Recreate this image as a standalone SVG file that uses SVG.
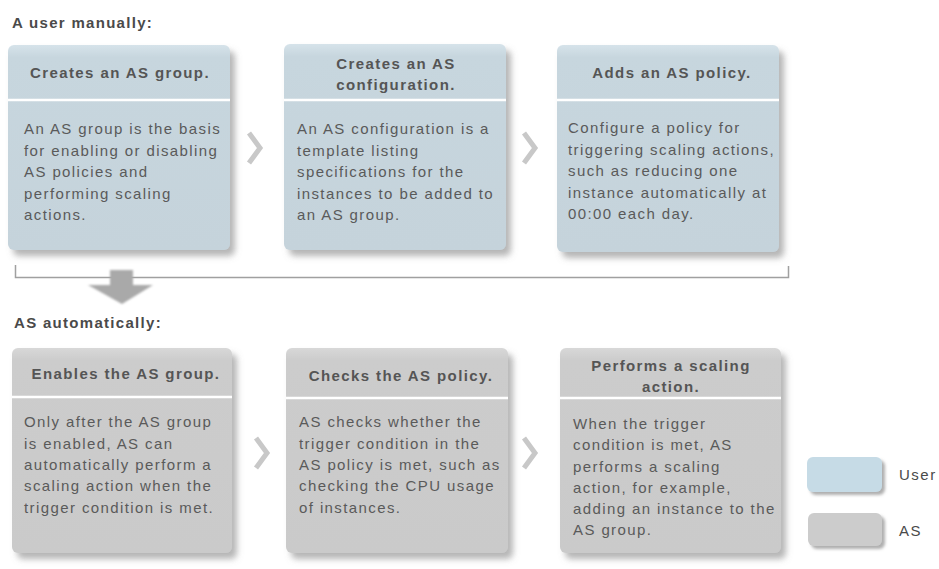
<svg xmlns="http://www.w3.org/2000/svg" width="939" height="569" viewBox="0 0 939 569">
<defs>
  <filter id="sh" x="-10%" y="-10%" width="130%" height="130%">
    <feDropShadow dx="5" dy="6" stdDeviation="3" flood-color="#7a7a7a" flood-opacity="0.55"/>
  </filter>
  <filter id="sh2" x="-20%" y="-20%" width="150%" height="160%">
    <feDropShadow dx="3" dy="3" stdDeviation="1.5" flood-color="#7a7a7a" flood-opacity="0.6"/>
  </filter>
  <filter id="blur" x="-20%" y="-20%" width="140%" height="150%">
    <feGaussianBlur stdDeviation="1.2"/>
  </filter>
  <linearGradient id="gb" x1="0" y1="0" x2="0" y2="1">
    <stop offset="0" stop-color="#d6e3ea"/>
    <stop offset="0.06" stop-color="#c7d6de"/>
    <stop offset="1" stop-color="#c5d3db"/>
  </linearGradient>
  <linearGradient id="gg" x1="0" y1="0" x2="0" y2="1">
    <stop offset="0" stop-color="#d8d8d8"/>
    <stop offset="0.06" stop-color="#cccccc"/>
    <stop offset="1" stop-color="#cacaca"/>
  </linearGradient>
</defs>
<style>
  .title{font-family:"Liberation Sans",Arial,sans-serif;font-size:15px;font-weight:bold;fill:#4a4a4a;letter-spacing:1.3px}
  .hd{font-family:"Liberation Sans",Arial,sans-serif;font-size:15px;font-weight:bold;fill:#555555;text-anchor:middle;letter-spacing:1.4px}
  .bd{font-family:"Liberation Sans",Arial,sans-serif;font-size:15px;fill:#5a5a5a;letter-spacing:1.4px}
  .lg{font-family:"Liberation Sans",Arial,sans-serif;font-size:15px;fill:#4a4a4a;letter-spacing:1.5px}
  .ub{fill:url(#gb);filter:url(#sh)}
  .ab{fill:url(#gg);filter:url(#sh)}
  .sep{stroke:#ffffff;stroke-width:2.5}
  .chev{fill:none;stroke:#c8c8c8;stroke-width:5}
</style>

<text class="title" x="12" y="28">A user manually:</text>
<text class="title" x="14" y="328">AS automatically:</text>

<g id="connectors">
  <path d="M15.5 265 V277.5 H788.5 V266" fill="none" stroke="#a0a0a0" stroke-width="1.5"/>
  <polygon points="110,270 133,270 133,285 153,285 122,304 88,285 110,285" fill="#a9a9a9" filter="url(#blur)"/>
  <polyline class="chev" points="249,133 260,148 249,163"/>
  <polyline class="chev" points="524,133 535,148 524,163"/>
  <polyline class="chev" points="256,438 267,453 256,468"/>
  <polyline class="chev" points="524,438 535,453 524,468"/>
</g>

<g id="n1">
  <rect class="ub" x="8" y="45" width="222" height="205" rx="6"/>
  <line class="sep" x1="8" y1="100" x2="230" y2="100"/>
  <text class="hd" x="120" y="78">Creates an AS group.</text>
  <text class="bd" x="24" y="134">An AS group is the basis</text>
  <text class="bd" x="24" y="155.5">for enabling or disabling</text>
  <text class="bd" x="24" y="177">AS policies and</text>
  <text class="bd" x="24" y="198.5">performing scaling</text>
  <text class="bd" x="24" y="220">actions.</text>
</g>

<g id="n2">
  <rect class="ub" x="284" y="44" width="222" height="206" rx="6"/>
  <line class="sep" x1="284" y1="100" x2="506" y2="100"/>
  <text class="hd" x="396" y="69">Creates an AS</text>
  <text class="hd" x="396" y="89.5">configuration.</text>
  <text class="bd" x="297" y="134">An AS configuration is a</text>
  <text class="bd" x="297" y="155.5">template listing</text>
  <text class="bd" x="297" y="177">specifications for the</text>
  <text class="bd" x="297" y="198.5">instances to be added to</text>
  <text class="bd" x="297" y="220">an AS group.</text>
</g>

<g id="n3">
  <rect class="ub" x="557" y="45" width="222" height="207" rx="6"/>
  <line class="sep" x1="557" y1="100" x2="779" y2="100"/>
  <text class="hd" x="672" y="78">Adds an AS policy.</text>
  <text class="bd" x="568" y="133">Configure a policy for</text>
  <text class="bd" x="568" y="154.5">triggering scaling actions,</text>
  <text class="bd" x="568" y="176">such as reducing one</text>
  <text class="bd" x="568" y="197.5">instance automatically at</text>
  <text class="bd" x="568" y="219">00:00 each day.</text>
</g>

<g id="n4">
  <rect class="ab" x="12" y="348" width="220" height="205" rx="6"/>
  <line class="sep" x1="12" y1="397" x2="232" y2="397"/>
  <text class="hd" x="126" y="379">Enables the AS group.</text>
  <text class="bd" x="24" y="427">Only after the AS group</text>
  <text class="bd" x="24" y="448.5">is enabled, AS can</text>
  <text class="bd" x="24" y="470">automatically perform a</text>
  <text class="bd" x="24" y="491">scaling action when the</text>
  <text class="bd" x="24" y="512.5">trigger condition is met.</text>
</g>

<g id="n5">
  <rect class="ab" x="286" y="348" width="222" height="205" rx="6"/>
  <line class="sep" x1="286" y1="398" x2="508" y2="398"/>
  <text class="hd" x="401" y="381">Checks the AS policy.</text>
  <text class="bd" x="299" y="427">AS checks whether the</text>
  <text class="bd" x="299" y="448.5">trigger condition in the</text>
  <text class="bd" x="299" y="470">AS policy is met, such as</text>
  <text class="bd" x="299" y="491">checking the CPU usage</text>
  <text class="bd" x="299" y="512.5">of instances.</text>
</g>

<g id="n6">
  <rect class="ab" x="560" y="348" width="221" height="205" rx="6"/>
  <line class="sep" x1="560" y1="398" x2="781" y2="398"/>
  <text class="hd" x="671" y="371">Performs a scaling</text>
  <text class="hd" x="671" y="392">action.</text>
  <text class="bd" x="573" y="429">When the trigger</text>
  <text class="bd" x="573" y="450">condition is met, AS</text>
  <text class="bd" x="573" y="471.5">performs a scaling</text>
  <text class="bd" x="573" y="492.5">action, for example,</text>
  <text class="bd" x="573" y="514">adding an instance to the</text>
  <text class="bd" x="573" y="535">AS group.</text>
</g>

<g id="legend-user">
  <rect x="807" y="457" width="75" height="35" rx="6" fill="#c6dbe6" filter="url(#sh2)"/>
  <text class="lg" x="899" y="480">User</text>
</g>
<g id="legend-as">
  <rect x="808" y="513" width="74" height="33" rx="6" fill="#cccccc" filter="url(#sh2)"/>
  <text class="lg" x="899" y="536">AS</text>
</g>
</svg>
